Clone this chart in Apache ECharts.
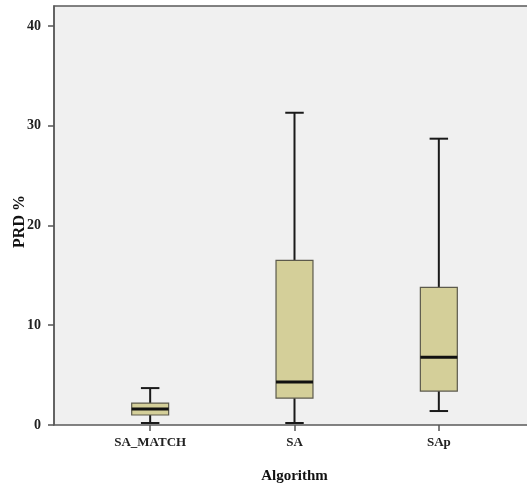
<!DOCTYPE html>
<html>
<head>
<meta charset="utf-8">
<script src="https://cdn.jsdelivr.net/npm/echarts@6/dist/echarts.min.js"></script>
<style>
  html, body { margin: 0; padding: 0; background: #fff; }
  #chart { width: 527px; height: 487px; }
</style>
</head>
<body>
<div id="chart"></div>
<script>
// values
const categories = ['SA_MATCH', 'SA', 'SAp']
const whiskerLow = [0.2, 0.2, 1.4]
const q1 = [1.0, 2.7, 3.4]
const median = [1.6, 4.3, 6.8]
const q3 = [2.2, 16.5, 13.8]
const whiskerHigh = [3.7, 31.3, 28.7]
const yTicks = [0, 10, 20, 30, 40]

const rows = categories.map((c, i) => [i, whiskerLow[i], q1[i], median[i], q3[i], whiskerHigh[i]])

const font = 'Liberation Serif'

// box, whiskers and a thick median line
function renderBox(params, api) {
    const i = api.value(0)
    const band = api.size([1, 0])[0]
    const half = band * 0.128
    const cap = half / 2
    const pLow = api.coord([i, api.value(1)])
    const pQ1 = api.coord([i, api.value(2)])
    const pMed = api.coord([i, api.value(3)])
    const pQ3 = api.coord([i, api.value(4)])
    const pHigh = api.coord([i, api.value(5)])
    const cx = pMed[0]
    const wStyle = { stroke: '#1a1a1a', lineWidth: 2 }
    return {
        type: 'group',
        children: [
            { type: 'line', shape: { x1: cx, y1: pHigh[1], x2: cx, y2: pQ3[1] }, style: wStyle },
            { type: 'line', shape: { x1: cx, y1: pLow[1], x2: cx, y2: pQ1[1] }, style: wStyle },
            { type: 'line', shape: { x1: cx - cap, y1: pHigh[1], x2: cx + cap, y2: pHigh[1] }, style: wStyle },
            { type: 'line', shape: { x1: cx - cap, y1: pLow[1], x2: cx + cap, y2: pLow[1] }, style: wStyle },
            {
                type: 'rect',
                shape: { x: cx - half, y: pQ3[1], width: half * 2, height: pQ1[1] - pQ3[1] },
                style: { fill: '#d4cf99', stroke: '#5c5a4c', lineWidth: 1.2 }
            },
            { type: 'line', shape: { x1: cx - half, y1: pMed[1], x2: cx + half, y2: pMed[1] }, style: { stroke: '#111', lineWidth: 3 } }
        ]
    }
}

const myEcharts = echarts.init(document.getElementById('chart'))
const option = {
    animation: false,
    backgroundColor: '#ffffff',
    grid: [
        {
            // frame / background, runs past the right edge like the reference
            left: 54, top: 6, right: -30, bottom: 62,
            outerBoundsMode: 'none',
            show: true,
            backgroundColor: '#f0f0f0',
            borderColor: '#5a5a5a',
            borderWidth: 1.5
        },
        {
            left: 78, top: 6, width: 433, bottom: 62,
            outerBoundsMode: 'none'
        }
    ],
    xAxis: [
        { gridIndex: 0, type: 'value', show: false, min: 0, max: 1 },
        {
            gridIndex: 1,
            type: 'category',
            data: categories,
            name: 'Algorithm',
            nameLocation: 'middle',
            nameGap: 44,
            nameTextStyle: { fontFamily: font, fontWeight: 'bold', fontSize: 15, color: '#111' },
            axisLine: { show: false },
            axisTick: { show: true, alignWithLabel: true, length: 6, lineStyle: { color: '#555', width: 1.5 } },
            axisLabel: { margin: 11, fontFamily: font, fontWeight: 'bold', fontSize: 13, color: '#222' },
            splitLine: { show: false }
        }
    ],
    yAxis: [
        {
            gridIndex: 0,
            type: 'value',
            min: 0,
            max: 42,
            name: 'PRD %',
            nameLocation: 'middle',
            nameGap: 26,
            nameMoveOverlap: false,
            nameRotate: 90,
            nameTextStyle: { fontFamily: font, fontWeight: 'bold', fontSize: 16, color: '#111', padding: [0, 12, 0, 0] },
            axisLine: { show: true, lineStyle: { color: '#5a5a5a', width: 1.5 } },
            axisTick: { show: true, length: 6, customValues: yTicks, lineStyle: { color: '#555', width: 1.5 } },
            axisLabel: { margin: 13, customValues: yTicks, fontFamily: font, fontWeight: 'bold', fontSize: 14, color: '#222' },
            splitLine: { show: false }
        },
        { gridIndex: 1, type: 'value', min: 0, max: 42, show: false }
    ],
    series: [
        {
            type: 'custom',
            xAxisIndex: 1,
            yAxisIndex: 1,
            renderItem: renderBox,
            encode: { x: 0, y: [1, 2, 3, 4, 5] },
            data: rows
        }
    ]
}
myEcharts.setOption(option)
</script>
</body>
</html>
